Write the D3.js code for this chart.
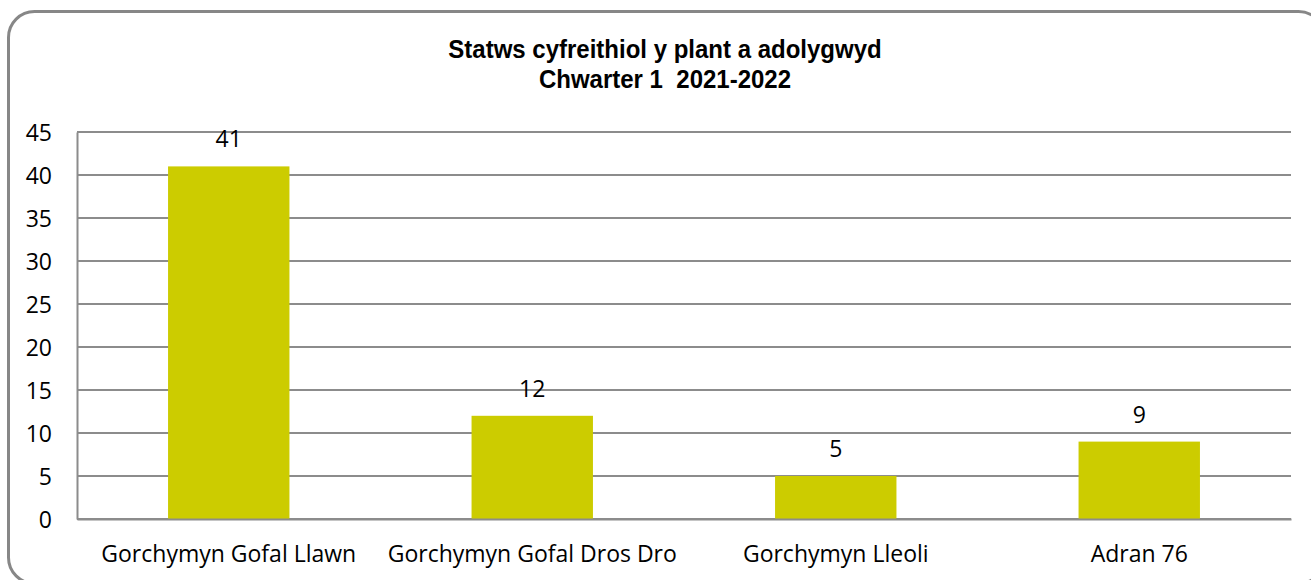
<!DOCTYPE html>
<html>
<head>
<meta charset="utf-8">
<script src="https://cdn.jsdelivr.net/npm/d3@7"></script>
<style>
  body { margin: 0; background: #fff; }
  text { font-family: "Open Sans", sans-serif; fill: #000; }
</style>
</head>
<body>
<svg></svg>
<script>
// data
const categories = ['Gorchymyn Gofal Llawn', 'Gorchymyn Gofal Dros Dro', 'Gorchymyn Lleoli', 'Adran 76'];
const values = [41, 12, 5, 9];
const yTicks = [0, 5, 10, 15, 20, 25, 30, 35, 40, 45];
const titleLines = ['Statws cyfreithiol y plant a adolygwyd', 'Chwarter 1  2021-2022'];

var W = 1311, H = 580;
var margin = {top: 132, right: 20, bottom: 61, left: 77};
var plotW = 1291 - margin.left,
    plotH = H - margin.top - margin.bottom;

const container = d3.select('svg')
    .attr('width', W)
    .attr('height', H);

// chart border
container.append('rect')
    .attr('x', 8.5)
    .attr('y', 11.5)
    .attr('width', 1316)
    .attr('height', 572)
    .attr('rx', 26)
    .attr('fill', 'none')
    .attr('stroke', '#878787')
    .attr('stroke-width', 3);

const xScale = d3.scaleBand()
    .domain(categories)
    .range([0, plotW])
    .paddingInner(0.6)
    .paddingOuter(0.3);

const yScale = d3.scaleLinear()
    .domain([0, 45])
    .range([plotH, 0]);

const g = container.append('g')
    .attr('transform', 'translate(' + margin.left + ',' + margin.top + ')');

// gridlines
g.append('g')
    .selectAll('line')
    .data(yTicks)
    .enter()
    .append('line')
    .attr('x1', 0)
    .attr('x2', plotW)
    .attr('y1', d => yScale(d))
    .attr('y2', d => yScale(d))
    .attr('stroke', '#8c8c8c')
    .attr('stroke-width', 2);

// y axis
const yAxis = g.append('g')
    .call(d3.axisLeft(yScale).tickValues(yTicks).tickSize(0).tickPadding(25));
yAxis.select('.domain').attr('stroke', '#8c8c8c').attr('stroke-width', 2);
yAxis.selectAll('text')
    .style('font-family', '"Open Sans", sans-serif')
    .style('font-size', '23px')
    .attr('dy', '0.35em');

// bars
g.selectAll('.bar')
    .data(values)
    .enter()
    .append('rect')
    .classed('bar', true)
    .attr('x', (d, i) => xScale(categories[i]))
    .attr('y', d => yScale(d))
    .attr('width', xScale.bandwidth())
    .attr('height', d => plotH - yScale(d))
    .attr('fill', '#cccc00');

// x axis
const xAxis = g.append('g')
    .attr('transform', 'translate(0,' + plotH + ')')
    .call(d3.axisBottom(xScale).tickSize(0).tickPadding(27));
xAxis.select('.domain').attr('stroke', '#8c8c8c').attr('stroke-width', 2);
xAxis.selectAll('text')
    .style('font-family', '"Open Sans", sans-serif')
    .style('font-size', '23px');

// value labels
g.selectAll('.label')
    .data(values)
    .enter()
    .append('text')
    .classed('label', true)
    .attr('x', (d, i) => xScale(categories[i]) + xScale.bandwidth() / 2)
    .attr('y', d => yScale(d) - 19)
    .attr('text-anchor', 'middle')
    .style('font-size', '23px')
    .text(d => d);

// title
container.append('text')
    .attr('text-anchor', 'middle')
    .style('font-family', '"Liberation Sans", Arial, sans-serif')
    .style('font-weight', 'bold')
    .style('font-size', '25px')
    .style('white-space', 'pre')
    .attr('transform', 'translate(665,0) scale(0.96,1)')
    .selectAll('tspan')
    .data(titleLines)
    .enter()
    .append('tspan')
    .attr('x', 0)
    .attr('y', (d, i) => 58 + i * 30)
    .text(d => d);
</script>
</body>
</html>
